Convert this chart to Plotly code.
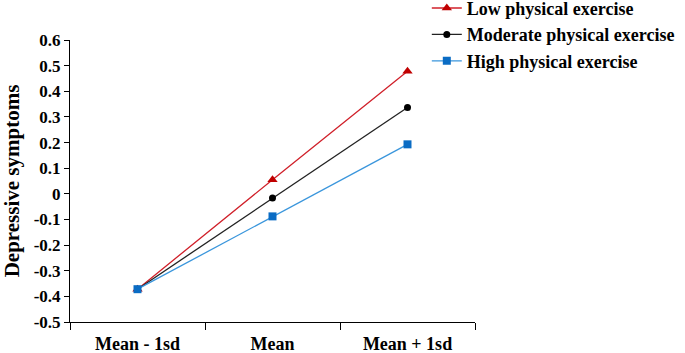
import plotly.graph_objects as go

categories = ["Mean - 1sd", "Mean", "Mean + 1sd"]
low = [-0.372, 0.055, 0.478]
moderate = [-0.372, -0.016, 0.337]
high = [-0.372, -0.088, 0.193]
y_ticks = [0.6, 0.5, 0.4, 0.3, 0.2, 0.1, 0, -0.1, -0.2, -0.3, -0.4, -0.5]
y_labels = ["0.6", "0.5", "0.4", "0.3", "0.2", "0.1", "0", "-0.1", "-0.2", "-0.3", "-0.4", "-0.5"]

font = "Liberation Serif"
fig = go.Figure()
fig.add_trace(go.Scatter(x=categories, y=low, name="Low physical exercise", mode="lines+markers",
                         line=dict(color="#D0202A", width=1.3),
                         marker=dict(symbol="triangle-up", size=9, color="#C00000")))
fig.add_trace(go.Scatter(x=categories, y=moderate, name="Moderate physical exercise", mode="lines+markers",
                         line=dict(color="#222222", width=1.3),
                         marker=dict(symbol="circle", size=7, color="#000000")))
fig.add_trace(go.Scatter(x=categories, y=high, name="High physical exercise", mode="lines+markers",
                         line=dict(color="#3A96DC", width=1.3),
                         marker=dict(symbol="square", size=8, color="#0A6CC4")))

fig.update_layout(
    width=685, height=353,
    margin=dict(l=70, r=210, t=40, b=31, autoexpand=False),
    paper_bgcolor="white", plot_bgcolor="white",
    font=dict(family=font, color="black"),
    legend=dict(x=0.881, y=1.178, xanchor="left", yanchor="top",
                font=dict(family=font, size=18, color="black", weight="bold"),
                bgcolor="rgba(0,0,0,0)", tracegroupgap=0, itemwidth=30),
    xaxis=dict(type="category", categoryorder="array", categoryarray=categories,
               range=[-0.5, 2.5], tickson="boundaries", ticks="outside", ticklen=7,
               tickcolor="black", showline=True, linecolor="black", linewidth=1,
               showgrid=False, zeroline=False, ticklabelstandoff=5,
               tickfont=dict(family=font, size=18, color="black", weight="bold")),
    yaxis=dict(range=[-0.5, 0.6], tickvals=y_ticks, ticktext=y_labels,
               ticks="outside", ticklen=5, tickcolor="black",
               showline=True, linecolor="black", linewidth=1,
               showgrid=False, zeroline=False,
               tickfont=dict(family=font, size=17, color="black", weight="bold"),
               title=dict(text="Depressive symptoms", standoff=12,
                          font=dict(family=font, size=21, color="black", weight="bold"))),
)

fig.write_html("out.html", config={"displayModeBar": False},
               post_script="document.body.style.margin='0';")
